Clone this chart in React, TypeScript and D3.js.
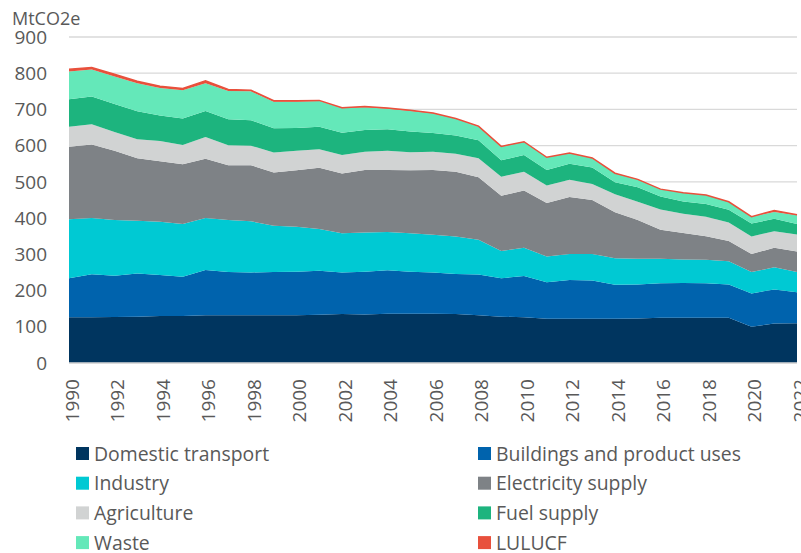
import React from 'react'
import * as d3 from 'd3'

const years = d3.range(1990, 2023)

const domestic = [126, 126, 127, 128, 130, 130, 132, 132, 132, 132, 132, 133, 135, 134, 136, 136, 136, 135, 132, 128, 126, 122, 122, 122, 122, 123, 125, 125, 125, 125, 100, 109, 110]
const buildings = [108, 119, 114, 119, 113, 108, 125, 119, 118, 119, 120, 122, 115, 118, 120, 116, 114, 111, 112, 106, 114, 101, 107, 106, 94, 94, 95, 96, 95, 92, 92, 94, 85]
const industry = [163, 155, 154, 146, 147, 146, 143, 144, 141, 128, 124, 115, 108, 108, 106, 106, 104, 103, 96, 75, 78, 71, 72, 73, 73, 71, 68, 65, 65, 64, 59, 61, 56]
const electricity = [200, 203, 191, 172, 167, 165, 164, 151, 155, 147, 156, 169, 165, 173, 171, 174, 179, 179, 173, 153, 158, 148, 157, 149, 127, 107, 80, 73, 65, 56, 50, 54, 57]
const agriculture = [55, 56, 52, 53, 56, 53, 60, 55, 54, 55, 54, 51, 51, 50, 53, 50, 50, 50, 52, 52, 52, 48, 48, 44, 50, 50, 56, 53, 54, 51, 48, 46, 47]
const fuelSupply = [76, 77, 77, 77, 70, 73, 72, 72, 70, 67, 63, 62, 62, 60, 59, 57, 52, 50, 50, 46, 46, 43, 44, 46, 33, 40, 36, 34, 35, 35, 36, 34, 29]
const waste = [77, 74, 76, 77, 76, 78, 76, 78, 80, 73, 72, 71, 67, 63, 57, 57, 54, 46, 37, 37, 36, 34, 29, 25, 24, 21, 20, 24, 25, 22, 19, 19, 24]
const lulucf = [6, 6, 6, 6, 5, 5, 7, 4, 3, 3, 3, 2, 2, 2, 2, 2, 1, 1, 2, 1, 1, 1, 1, 1, 1, 1, 0, 0, 0, 0, 0, 4, 1]

const seriesNames = ['Domestic transport', 'Buildings and product uses', 'Industry', 'Electricity supply', 'Agriculture', 'Fuel supply', 'Waste', 'LULUCF']
const seriesValues = [domestic, buildings, industry, electricity, agriculture, fuelSupply, waste, lulucf]
const colors = ['#00355f', '#0063ad', '#00c9d3', '#7e8286', '#d1d3d3', '#1db47e', '#64e8b9', '#e8503c']

const yTicks = [0, 100, 200, 300, 400, 500, 600, 700, 800, 900]
const xTicks = years.filter((y) => y % 2 === 0)

const width = 801, height = 553
const margin = { top: 37, right: 4, bottom: 190, left: 69 }

function App() {
  const rows = years.map((yr, i) => {
    const r: any = { year: yr }
    seriesNames.forEach((n, j) => { r[n] = seriesValues[j][i] })
    return r
  })

  const stacked = d3.stack().keys(seriesNames)(rows)

  const x = d3.scaleLinear().domain([1990, 2022]).range([margin.left, width - margin.right])
  const y = d3.scaleLinear().domain([0, 900]).range([height - margin.bottom, margin.top])

  const area = d3.area<any>()
    .x((d) => x(d.data.year))
    .y0((d) => y(d[0]))
    .y1((d) => y(d[1]))

  const font = '"Open Sans", sans-serif'

  return (
    <svg width={width} height={height} style={{ position: 'absolute', left: 0, top: 0, background: '#fff' }}>
      {/* gridlines */}
      {yTicks.map((t) => (
        <line key={t} x1={x(1990)} x2={x(2022)} y1={y(t)} y2={y(t)} stroke="#d9d9d9" strokeWidth={1.3} />
      ))}
      {stacked.map((s, i) => (
        <path key={s.key} d={area(s) || ''} fill={colors[i]} />
      ))}
      {/* lulucf edge line so the thin layer shows */}
      <path
        d={d3.line<any>().x((d) => x(d.data.year)).y((d) => y(d[1]))(stacked[7]) || ''}
        fill="none" stroke={colors[7]} strokeWidth={1.5}
      />
      <line x1={x(1990)} x2={x(2022)} y1={y(0)} y2={y(0)} stroke="#d9d9d9" strokeWidth={1.3} />

      {/* y axis labels */}
      {yTicks.map((t) => (
        <text key={t} x={47} y={y(t)} dy="0.35em" textAnchor="end" fontFamily={font} fontSize={19} fill="#595959">{t}</text>
      ))}
      <text x={12} y={25} fontFamily={font} fontSize={18} fill="#595959">MtCO2e</text>

      {/* x axis labels */}
      {xTicks.map((t) => (
        <text key={t} transform={`translate(${x(t) + 9.5},${y(0) + 16}) rotate(-90)`} textAnchor="end"
          fontFamily={font} fontSize={19} fill="#595959">{t}</text>
      ))}

      {/* legend */}
      {seriesNames.map((n, i) => {
        const col = i % 2, row = Math.floor(i / 2)
        const lx = col === 0 ? 76 : 478
        const ly = 454 + row * 29.7
        return (
          <g key={n}>
            <rect x={lx} y={ly - 7} width={13} height={13} fill={colors[i]} />
            <text x={lx + 18} y={ly} dy="0.35em" fontFamily={font} fontSize={19.4} fill="#595959">{n}</text>
          </g>
        )
      })}
    </svg>
  )
}

export default App
